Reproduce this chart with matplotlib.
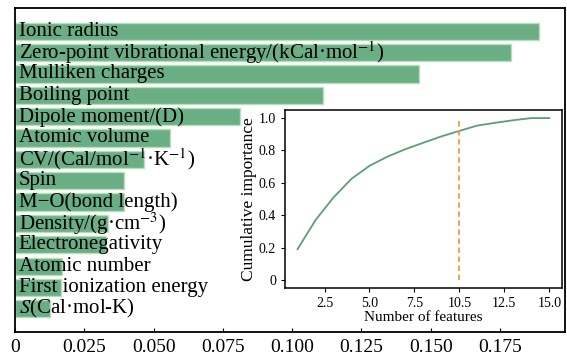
import matplotlib
matplotlib.use("Agg")
import matplotlib.pyplot as plt
import numpy as np

plt.rcParams['font.family'] = ['Liberation Serif', 'DejaVu Serif']
plt.rcParams['mathtext.fontset'] = 'stix'

# feature importances, largest first
features = [
    'Ionic radius',
    'Zero-point vibrational energy/(kCal·mol$^{-1}$)',
    'Mulliken charges',
    'Boiling point',
    'Dipole moment/(D)',
    'Atomic volume',
    'CV/(Cal/mol$^{-1}$·K$^{-1}$)',
    'Spin',
    'M\u2212O(bond length)',
    'Density/(g·cm$^{-3}$)',
    'Electronegativity',
    'Atomic number',
    'First ionization energy',
    '$S$(Cal·mol-K)',
]
importance = [0.189, 0.179, 0.1457, 0.111, 0.081, 0.056, 0.0467,
              0.0395, 0.0393, 0.0334, 0.0327, 0.0171, 0.0165, 0.0128]

# cumulative importance curve (inset)
n_features = [1, 2, 3, 4, 5, 6, 7, 8, 9, 10, 11, 12, 13, 14, 15]
cumulative = [0.19, 0.37, 0.51, 0.625, 0.705, 0.762, 0.808, 0.848,
              0.887, 0.921, 0.954, 0.971, 0.987, 1.0, 1.0]
cutoff = 10
inset_ticks = [2.5, 5.0, 7.5, 10.0, 12.5, 15.0]
inset_ticklabels = ['2.5', '5.0', '7.5', '10.5', '12.5', '15.0']

bar_color = '#6aae84'
edge_color = '#b8dec0'

fig = plt.figure(figsize=(5.67, 3.58), dpi=100)
ax = fig.add_axes([0.0265, 0.0726, 0.97, 0.905])

y = np.arange(len(features))
ax.barh(y, importance, height=0.8, color=bar_color, edgecolor=edge_color, linewidth=1.0)
for i, name in enumerate(features):
    ax.text(0.0013, i, name, va='center', ha='left', fontsize=15)
ax.invert_yaxis()
ax.set_yticks([])
ax.set_xticks([0, 0.025, 0.05, 0.075, 0.1, 0.125, 0.15, 0.175])
ax.set_xticklabels(['0', '0.025', '0.050', '0.075', '0.100', '0.125', '0.150', '0.175'])
ax.tick_params(axis='x', direction='in', length=3, labelsize=14, pad=5)
for s in ax.spines.values():
    s.set_linewidth(1.3)

# inset
ins = fig.add_axes([0.5026, 0.1955, 0.4884, 0.4972])
ins.plot(n_features, cumulative, color='#5e9e74', linewidth=1.3)
ins.vlines(cutoff, 0, 1.0, colors='#f39a3c', linestyles=(0, (3, 2)), linewidth=1.3)
ins.set_ylim(-0.05, 1.05)
ins.set_yticks([0, 0.2, 0.4, 0.6, 0.8, 1.0])
ins.set_yticklabels(['0', '0.2', '0.4', '0.6', '0.8', '1.0'])
ins.set_xticks(inset_ticks)
ins.set_xticklabels(inset_ticklabels)
ins.tick_params(labelsize=10, length=3)
ins.set_xlabel('Number of features', fontsize=11, labelpad=1)
ins.set_ylabel('Cumulative importance', fontsize=12.5, labelpad=1)
for s in ins.spines.values():
    s.set_linewidth(1.1)

fig.savefig('out.png', dpi=100)
